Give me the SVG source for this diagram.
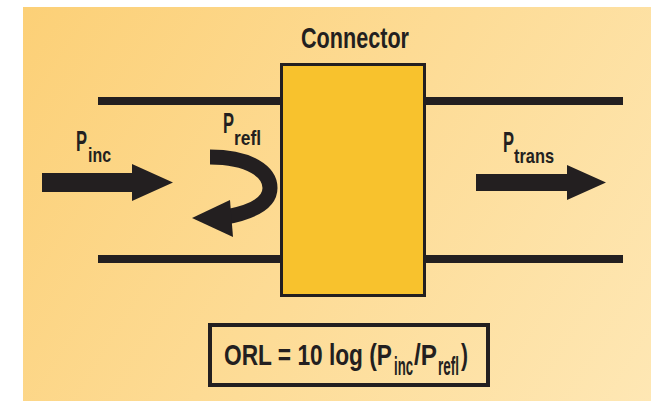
<svg xmlns="http://www.w3.org/2000/svg" width="651" height="401" viewBox="0 0 651 401">
  <defs>
    <linearGradient id="bg" x1="23" y1="7" x2="651" y2="401" gradientUnits="userSpaceOnUse">
      <stop offset="0" stop-color="#FCD077"/>
      <stop offset="1" stop-color="#FEE7B4"/>
    </linearGradient>
  </defs>
  <style>
    .ink { fill: #231F20; }
    .rail { stroke: #231F20; stroke-width: 8; fill: none; }
    .lbl { font-family: "Liberation Sans", Arial, sans-serif; font-weight: bold; fill: #231F20; }
    .big { font-size: 30px; }
    .sub { font-size: 21px; }
    .sub2 { font-size: 25px; }
  </style>

  <rect x="0" y="0" width="651" height="401" fill="#FFFFFF"/>
  <rect x="23" y="7" width="628" height="394" fill="url(#bg)"/>

  <!-- transmission line rails and power-flow arrows -->
  <g id="connectors">
    <line class="rail" x1="98" y1="101" x2="623" y2="101"/>
    <line class="rail" x1="98" y1="259" x2="623" y2="259"/>
    <polygon class="ink" points="42,173 132,173 132,164 173,182.5 132,201 132,192 42,192"/>
    <polygon class="ink" points="476,174 567,174 567,165 606,182.5 567,200 567,191 476,191"/>
    <path d="M210,157 C250,157 270,172 270,188 C270,203 252,212 226,217" fill="none" stroke="#231F20" stroke-width="15"/>
    <polygon class="ink" points="192,218 230,200 233,237"/>
  </g>

  <g id="connector">
    <rect x="281.5" y="64.5" width="143" height="231" fill="#F8C22D" stroke="#231F20" stroke-width="3"/>
    <text class="lbl big" x="301" y="48" textLength="108" lengthAdjust="spacingAndGlyphs">Connector</text>
  </g>

  <g id="p-inc">
    <text class="lbl big" x="76" y="151" textLength="11" lengthAdjust="spacingAndGlyphs">P</text>
    <text class="lbl sub" x="88" y="162" textLength="23" lengthAdjust="spacingAndGlyphs">inc</text>
  </g>

  <g id="p-refl">
    <text class="lbl big" x="223" y="133" textLength="11" lengthAdjust="spacingAndGlyphs">P</text>
    <text class="lbl sub" x="234" y="145" textLength="27" lengthAdjust="spacingAndGlyphs">refl</text>
  </g>

  <g id="p-trans">
    <text class="lbl big" x="503" y="152" textLength="11" lengthAdjust="spacingAndGlyphs">P</text>
    <text class="lbl sub" x="514" y="163" textLength="40" lengthAdjust="spacingAndGlyphs">trans</text>
  </g>

  <g id="orl">
    <rect x="210" y="325" width="278" height="60" fill="none" stroke="#231F20" stroke-width="4"/>
    <text class="lbl big" x="224" y="365" textLength="168" lengthAdjust="spacingAndGlyphs">ORL = 10 log (P</text>
    <text class="lbl sub2" x="394" y="375" textLength="19" lengthAdjust="spacingAndGlyphs">inc</text>
    <text class="lbl big" x="414" y="365" textLength="23" lengthAdjust="spacingAndGlyphs">/P</text>
    <text class="lbl sub2" x="438" y="375" textLength="21" lengthAdjust="spacingAndGlyphs">refl</text>
    <text class="lbl big" x="461" y="365" textLength="7" lengthAdjust="spacingAndGlyphs">)</text>
  </g>
</svg>
